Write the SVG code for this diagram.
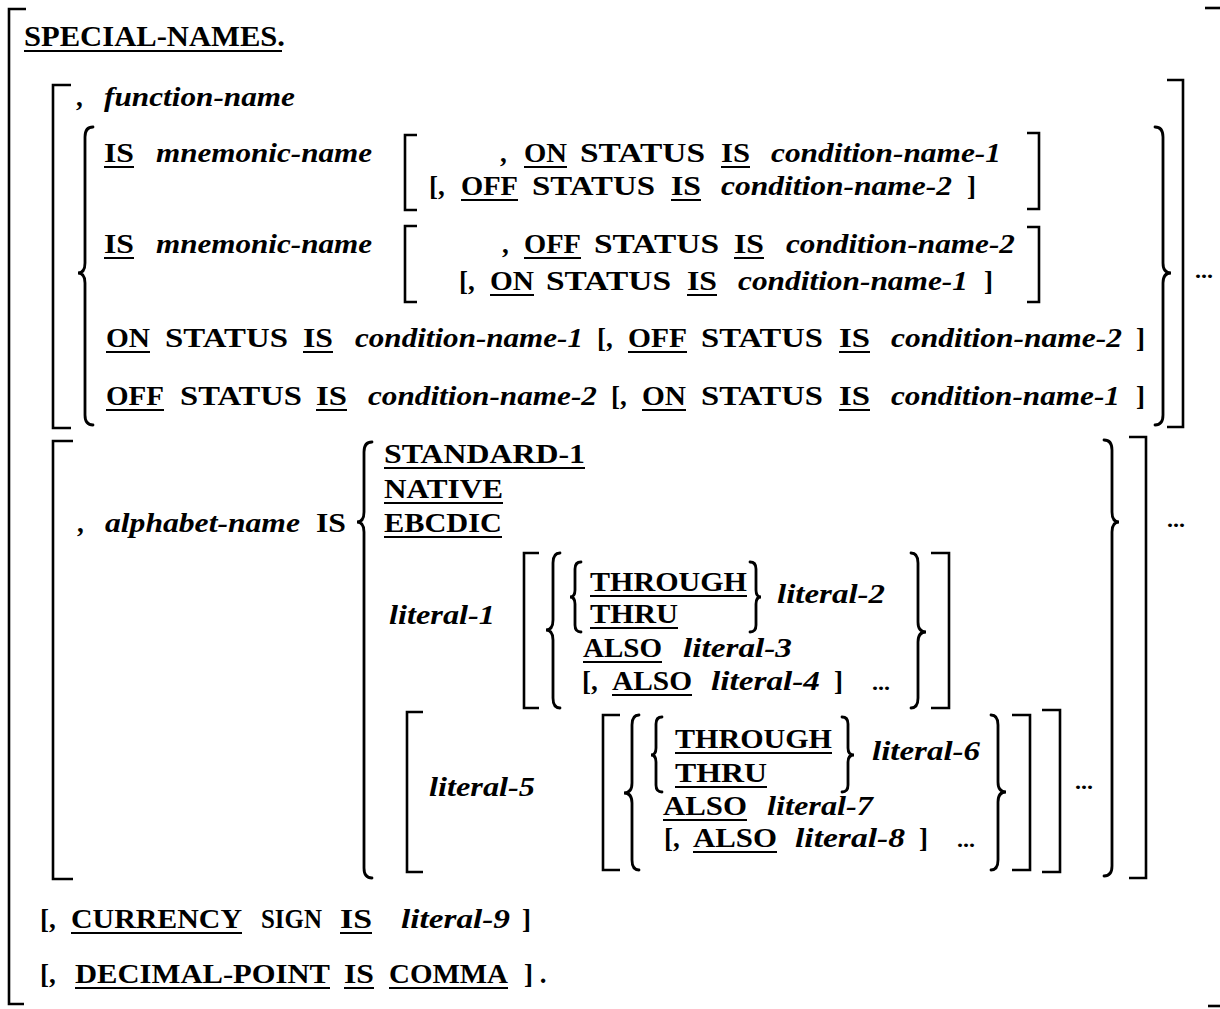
<svg xmlns="http://www.w3.org/2000/svg" width="1220" height="1009" viewBox="0 0 1220 1009">
<style>
.k{font-family:"Liberation Serif",serif;font-weight:bold;font-size:27px;fill:#000}
.h{font-family:"Liberation Serif",serif;font-weight:bold;font-size:29px;fill:#000}
.v{font-family:"Liberation Serif",serif;font-weight:bold;font-style:italic;font-size:27px;fill:#000}
.d{font-family:"Liberation Serif",serif;font-weight:bold;font-size:22px;fill:#000}
.b{fill:none;stroke:#000;stroke-width:2.6;stroke-linejoin:miter}
.c{fill:none;stroke:#000;stroke-width:2.8;stroke-linecap:round}
.u{fill:none;stroke:#000;stroke-width:1.8}
</style>
<rect width="1220" height="1009" fill="#fff"/>

<g id="outer">
<path class="b" d="M26 9 H9 V1004 H24"/>
<path class="b" d="M1205 8 H1220"/>
<path class="b" d="M1208 1006 H1220"/>
</g>

<g id="heading">
<text class="h" x="24" y="46" textLength="261" lengthAdjust="spacingAndGlyphs">SPECIAL-NAMES.</text>
<path class="u" d="M24 51 H282"/>
</g>

<g id="function-name-clause">
<path class="b" d="M71 85 H53 V428 H71"/>
<path class="b" d="M1167 80 H1183 V427 H1167"/>
<path class="c" d="M93 127 Q85 127 85 137 L85 263 Q85 273 78 273 Q85 273 85 283 L85 415 Q85 425 93 425"/>
<path class="c" d="M1155 127 Q1163 127 1163 137 L1163 263 Q1163 273 1171 273 Q1163 273 1163 283 L1163 415 Q1163 425 1155 425"/>
<text class="d" x="1195" y="278" textLength="18" lengthAdjust="spacingAndGlyphs">...</text>

<text class="k" x="76" y="106">,</text>
<text class="v" x="104" y="106" textLength="191" lengthAdjust="spacingAndGlyphs">function-name</text>

<!-- row 3 -->
<text class="k" x="104" y="162" textLength="30" lengthAdjust="spacingAndGlyphs">IS</text>
<text class="v" x="156" y="162" textLength="216" lengthAdjust="spacingAndGlyphs">mnemonic-name</text>
<path class="b" d="M417 135 H405 V210 H417"/>
<text class="k" x="500" y="162">,</text>
<text class="k" x="524" y="162" textLength="43" lengthAdjust="spacingAndGlyphs">ON</text>
<text class="k" x="580" y="162" textLength="125" lengthAdjust="spacingAndGlyphs">STATUS</text>
<text class="k" x="721" y="162" textLength="29" lengthAdjust="spacingAndGlyphs">IS</text>
<text class="v" x="771" y="162" textLength="230" lengthAdjust="spacingAndGlyphs">condition-name-1</text>
<path class="b" d="M1027 133 H1039 V209 H1027"/>
<path class="u" d="M104 167 H134 M524 167 H567 M721 167 H750"/>

<!-- row 4 -->
<text class="k" x="429" y="195">[,</text>
<text class="k" x="461" y="195" textLength="57" lengthAdjust="spacingAndGlyphs">OFF</text>
<text class="k" x="532" y="195" textLength="123" lengthAdjust="spacingAndGlyphs">STATUS</text>
<text class="k" x="671" y="195" textLength="30" lengthAdjust="spacingAndGlyphs">IS</text>
<text class="v" x="721" y="195" textLength="231" lengthAdjust="spacingAndGlyphs">condition-name-2</text>
<text class="k" x="967" y="195">]</text>
<path class="u" d="M461 200 H518 M671 200 H701"/>

<!-- row 5 -->
<text class="k" x="104" y="253" textLength="30" lengthAdjust="spacingAndGlyphs">IS</text>
<text class="v" x="156" y="253" textLength="216" lengthAdjust="spacingAndGlyphs">mnemonic-name</text>
<path class="b" d="M417 226 H405 V302 H417"/>
<text class="k" x="502" y="253">,</text>
<text class="k" x="524" y="253" textLength="57" lengthAdjust="spacingAndGlyphs">OFF</text>
<text class="k" x="594" y="253" textLength="125" lengthAdjust="spacingAndGlyphs">STATUS</text>
<text class="k" x="734" y="253" textLength="30" lengthAdjust="spacingAndGlyphs">IS</text>
<text class="v" x="786" y="253" textLength="229" lengthAdjust="spacingAndGlyphs">condition-name-2</text>
<path class="b" d="M1027 227 H1039 V302 H1027"/>
<path class="u" d="M104 258 H134 M524 258 H581 M734 258 H764"/>

<!-- row 6 -->
<text class="k" x="459" y="290">[,</text>
<text class="k" x="490" y="290" textLength="44" lengthAdjust="spacingAndGlyphs">ON</text>
<text class="k" x="546" y="290" textLength="125" lengthAdjust="spacingAndGlyphs">STATUS</text>
<text class="k" x="687" y="290" textLength="30" lengthAdjust="spacingAndGlyphs">IS</text>
<text class="v" x="738" y="290" textLength="230" lengthAdjust="spacingAndGlyphs">condition-name-1</text>
<text class="k" x="984" y="290">]</text>
<path class="u" d="M490 295 H534 M687 295 H717"/>

<!-- row 7 -->
<text class="k" x="106" y="347" textLength="44" lengthAdjust="spacingAndGlyphs">ON</text>
<text class="k" x="165" y="347" textLength="123" lengthAdjust="spacingAndGlyphs">STATUS</text>
<text class="k" x="303" y="347" textLength="30" lengthAdjust="spacingAndGlyphs">IS</text>
<text class="v" x="355" y="347" textLength="228" lengthAdjust="spacingAndGlyphs">condition-name-1</text>
<text class="k" x="597" y="347">[,</text>
<text class="k" x="628" y="347" textLength="59" lengthAdjust="spacingAndGlyphs">OFF</text>
<text class="k" x="701" y="347" textLength="122" lengthAdjust="spacingAndGlyphs">STATUS</text>
<text class="k" x="839" y="347" textLength="31" lengthAdjust="spacingAndGlyphs">IS</text>
<text class="v" x="891" y="347" textLength="231" lengthAdjust="spacingAndGlyphs">condition-name-2</text>
<text class="k" x="1136" y="347">]</text>
<path class="u" d="M106 352 H150 M303 352 H333 M628 352 H687 M839 352 H870"/>

<!-- row 8 -->
<text class="k" x="106" y="405" textLength="58" lengthAdjust="spacingAndGlyphs">OFF</text>
<text class="k" x="180" y="405" textLength="122" lengthAdjust="spacingAndGlyphs">STATUS</text>
<text class="k" x="316" y="405" textLength="31" lengthAdjust="spacingAndGlyphs">IS</text>
<text class="v" x="368" y="405" textLength="229" lengthAdjust="spacingAndGlyphs">condition-name-2</text>
<text class="k" x="611" y="405">[,</text>
<text class="k" x="642" y="405" textLength="44" lengthAdjust="spacingAndGlyphs">ON</text>
<text class="k" x="701" y="405" textLength="122" lengthAdjust="spacingAndGlyphs">STATUS</text>
<text class="k" x="839" y="405" textLength="31" lengthAdjust="spacingAndGlyphs">IS</text>
<text class="v" x="891" y="405" textLength="229" lengthAdjust="spacingAndGlyphs">condition-name-1</text>
<text class="k" x="1136" y="405">]</text>
<path class="u" d="M106 410 H164 M316 410 H347 M642 410 H686 M839 410 H870"/>
</g>

<g id="alphabet-clause">
<path class="b" d="M73 441 H53 V879 H73"/>
<path class="b" d="M1129 437 H1146 V878 H1129"/>
<text class="d" x="1167" y="527" textLength="18" lengthAdjust="spacingAndGlyphs">...</text>
<path class="c" d="M372 442 Q364 442 364 452 L364 512 Q364 522 357 522 Q364 522 364 532 L364 868 Q364 878 372 878"/>
<path class="c" d="M1104 440 Q1112 440 1112 450 L1112 512 Q1112 522 1119 522 Q1112 522 1112 532 L1112 866 Q1112 876 1104 876"/>

<text class="k" x="77" y="532">,</text>
<text class="v" x="105" y="532" textLength="195" lengthAdjust="spacingAndGlyphs">alphabet-name</text>
<text class="k" x="316" y="532" textLength="30" lengthAdjust="spacingAndGlyphs">IS</text>
<text class="k" x="384" y="463" textLength="201" lengthAdjust="spacingAndGlyphs">STANDARD-1</text>
<text class="k" x="384" y="498" textLength="119" lengthAdjust="spacingAndGlyphs">NATIVE</text>
<text class="k" x="384" y="532" textLength="118" lengthAdjust="spacingAndGlyphs">EBCDIC</text>
<path class="u" d="M384 468 H585 M384 503 H503 M384 537 H502"/>

<!-- literal-1 block -->
<text class="v" x="389" y="624" textLength="106" lengthAdjust="spacingAndGlyphs">literal-1</text>
<path class="b" d="M539 553 H524 V708 H539"/>
<path class="c" d="M560 553 Q553 553 553 563 L553 620 Q553 630 546 630 Q553 630 553 640 L553 698 Q553 708 560 708"/>
<path class="c" d="M581 562 Q575 562 575 569 L575 590 Q575 597 570 597 Q575 597 575 604 L575 625 Q575 632 581 632"/>
<text class="k" x="590" y="591" textLength="157" lengthAdjust="spacingAndGlyphs">THROUGH</text>
<text class="k" x="590" y="623" textLength="88" lengthAdjust="spacingAndGlyphs">THRU</text>
<path class="c" d="M750 562 Q756 562 756 569 L756 590 Q756 597 761 597 Q756 597 756 604 L756 625 Q756 632 750 632"/>
<text class="v" x="777" y="603" textLength="108" lengthAdjust="spacingAndGlyphs">literal-2</text>
<text class="k" x="583" y="657" textLength="79" lengthAdjust="spacingAndGlyphs">ALSO</text>
<text class="v" x="683" y="657" textLength="109" lengthAdjust="spacingAndGlyphs">literal-3</text>
<text class="k" x="582" y="690">[,</text>
<text class="k" x="612" y="690" textLength="80" lengthAdjust="spacingAndGlyphs">ALSO</text>
<text class="v" x="711" y="690" textLength="109" lengthAdjust="spacingAndGlyphs">literal-4</text>
<text class="k" x="834" y="690">]</text>
<text class="d" x="872" y="690" textLength="18" lengthAdjust="spacingAndGlyphs">...</text>
<path class="u" d="M590 596 H747 M590 628 H678 M583 662 H662 M612 695 H692"/>
<path class="c" d="M911 553 Q918 553 918 563 L918 622 Q918 632 926 632 Q918 632 918 642 L918 698 Q918 708 911 708"/>
<path class="b" d="M931 553 H949 V708 H931"/>

<!-- literal-5 block -->
<path class="b" d="M423 712 H407 V872 H423"/>
<text class="v" x="429" y="796" textLength="106" lengthAdjust="spacingAndGlyphs">literal-5</text>
<path class="b" d="M620 715 H603 V870 H620"/>
<path class="c" d="M639 715 Q632 715 632 725 L632 783 Q632 793 624 793 Q632 793 632 803 L632 860 Q632 870 639 870"/>
<path class="c" d="M662 717 Q656 717 656 724 L656 748 Q656 755 651 755 Q656 755 656 762 L656 785 Q656 792 662 792"/>
<text class="k" x="675" y="748" textLength="157" lengthAdjust="spacingAndGlyphs">THROUGH</text>
<text class="k" x="675" y="782" textLength="92" lengthAdjust="spacingAndGlyphs">THRU</text>
<path class="c" d="M842 717 Q848 717 848 724 L848 748 Q848 755 854 755 Q848 755 848 762 L848 785 Q848 792 842 792"/>
<text class="v" x="872" y="760" textLength="108" lengthAdjust="spacingAndGlyphs">literal-6</text>
<text class="k" x="663" y="815" textLength="84" lengthAdjust="spacingAndGlyphs">ALSO</text>
<text class="v" x="767" y="815" textLength="106" lengthAdjust="spacingAndGlyphs">literal-7</text>
<text class="k" x="664" y="847">[,</text>
<text class="k" x="693" y="847" textLength="84" lengthAdjust="spacingAndGlyphs">ALSO</text>
<text class="v" x="795" y="847" textLength="110" lengthAdjust="spacingAndGlyphs">literal-8</text>
<text class="k" x="919" y="847">]</text>
<text class="d" x="957" y="847" textLength="18" lengthAdjust="spacingAndGlyphs">...</text>
<path class="u" d="M675 753 H832 M675 787 H767 M663 820 H747 M693 852 H777"/>
<path class="c" d="M991 715 Q998 715 998 725 L998 782 Q998 792 1006 792 Q998 792 998 802 L998 860 Q998 870 991 870"/>
<path class="b" d="M1012 715 H1030 V870 H1012"/>
<path class="b" d="M1042 710 H1060 V872 H1042"/>
<text class="d" x="1075" y="789" textLength="18" lengthAdjust="spacingAndGlyphs">...</text>
</g>

<g id="currency-clause">
<text class="k" x="40" y="928">[,</text>
<text class="k" x="71" y="928" textLength="171" lengthAdjust="spacingAndGlyphs">CURRENCY</text>
<text class="k" x="261" y="928" textLength="61" lengthAdjust="spacingAndGlyphs">SIGN</text>
<text class="k" x="340" y="928" textLength="32" lengthAdjust="spacingAndGlyphs">IS</text>
<text class="v" x="401" y="928" textLength="109" lengthAdjust="spacingAndGlyphs">literal-9</text>
<text class="k" x="522" y="928">]</text>
<path class="u" d="M71 933 H242 M340 933 H372"/>
</g>

<g id="decimal-point-clause">
<text class="k" x="40" y="983">[,</text>
<text class="k" x="75" y="983" textLength="255" lengthAdjust="spacingAndGlyphs">DECIMAL-POINT</text>
<text class="k" x="344" y="983" textLength="30" lengthAdjust="spacingAndGlyphs">IS</text>
<text class="k" x="389" y="983" textLength="119" lengthAdjust="spacingAndGlyphs">COMMA</text>
<text class="k" x="524" y="983">] .</text>
<path class="u" d="M75 988 H330 M344 988 H374 M389 988 H508"/>
</g>
</svg>
